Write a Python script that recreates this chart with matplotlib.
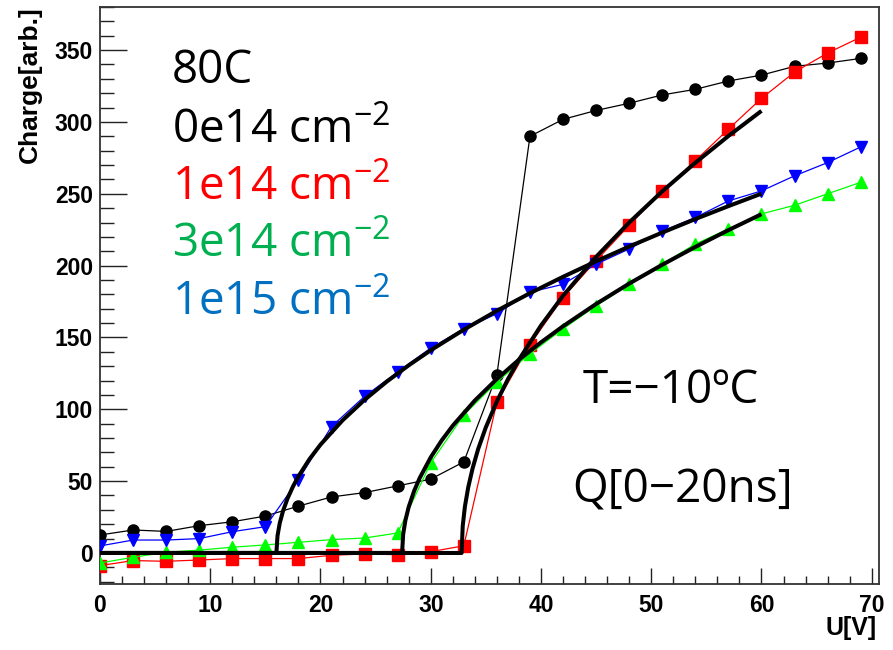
import matplotlib
matplotlib.use("Agg")
import matplotlib.pyplot as plt
from matplotlib.ticker import MultipleLocator

plt.rcParams["mathtext.fontset"] = "custom"
plt.rcParams["mathtext.rm"] = "Open Sans"
plt.rcParams["mathtext.it"] = "Open Sans"
plt.rcParams["mathtext.bf"] = "Open Sans"

# ---------------- data ----------------
voltage = [0, 3, 6, 9, 12, 15, 18, 21, 24, 27, 30, 33, 36, 39, 42, 45, 48, 51, 54, 57, 60, 63, 66, 69]

charge_0e14 = [12.5, 16, 15, 19, 21.7, 25.7, 32.6, 39, 42, 46.7, 51.4, 63.4, 124, 290,
               301.8, 308, 313, 318.8, 322.7, 328.5, 332.6, 338.7, 341, 344.2]
charge_1e14 = [-8.8, -5.3, -5.8, -4.9, -3.9, -3.9, -3.9, -1.6, -0.7, -1.2, 0.9, 5, 105, 145,
               177.8, 203.5, 228, 252, 273, 295, 316.4, 334.7, 348, 359]
charge_3e14 = [-7, -3, 0.5, 2, 4, 5.6, 7.4, 9.3, 10.4, 13.9, 62.7, 96, 119, 138.7,
               156, 172, 187, 201, 215, 225.5, 236, 242, 250, 258]
charge_1e15 = [4.9, 9, 9, 10, 14.8, 18.3, 51, 88, 109, 126, 142.6, 156, 166.5, 181.5,
               187, 201, 211.6, 224, 233.5, 245, 252, 262.5, 271.7, 282.6]

# fit curves (thick black lines)
fit_1e15_x = [0, 16.0, 16.1, 16.3, 16.6, 17, 17.5, 18, 19, 20, 22, 24, 26, 28, 30, 33, 36,
              39, 42, 45, 48, 51, 54, 57, 60]
fit_1e15_y = [0, 0, 11.9, 20.6, 29.2, 37.7, 46.2, 53.3, 65.3, 75.4, 92.3, 106.6, 119.2,
              130.6, 141.1, 155.4, 168.6, 180.8, 192.2, 203.0, 213.3, 223.0, 232.4, 241.4, 250.1]
fit_3e14_x = [0, 27.4, 27.5, 27.7, 28, 28.5, 29, 30, 31, 32, 34, 36, 38, 40, 42, 45, 48,
              51, 54, 57, 60]
fit_3e14_y = [0, 0, 13.1, 22.6, 32.0, 43.3, 52.2, 66.6, 78.4, 88.6, 106.1, 121.1, 134.5,
              146.6, 157.8, 173.3, 187.5, 200.6, 213.0, 224.7, 235.8]
fit_1e14_x = [0, 32.8, 32.9, 33.1, 33.4, 33.8, 34.3, 35, 36, 37, 38, 40, 42, 45, 48, 51,
              54, 57, 60]
fit_1e14_y = [0, 0, 18.7, 32.3, 45.7, 59, 72.3, 87.5, 105.5, 120.9, 134.5, 158.3, 179,
              206.1, 230, 251.7, 271.6, 290.2, 307.7]

legend_labels = ["80C",
                 "0e14 cm$^{\\mathregular{-2}}$",
                 "1e14 cm$^{\\mathregular{-2}}$",
                 "3e14 cm$^{\\mathregular{-2}}$",
                 "1e15 cm$^{\\mathregular{-2}}$"]
legend_colors = ["black", "black", "#ff0000", "#00b050", "#0070c0"]

# ---------------- figure ----------------
W, H = 893, 650
fig = plt.figure(figsize=(W / 100, H / 100), dpi=100)
ax = fig.add_axes([100 / W, 1 - 584 / H, 779 / W, 577 / H])

ax.plot(voltage, charge_0e14, color="black", lw=0.9, marker="o", ms=8, zorder=3)
ax.plot(voltage, charge_1e14, color="#ff0000", lw=0.9, marker="s", ms=8.5, zorder=4)
ax.plot(voltage, charge_3e14, color="#00ff00", lw=0.9, marker="^", ms=9, zorder=5)
ax.plot(voltage, charge_1e15, color="#0000ff", lw=0.9, marker="v", ms=9, zorder=6)

for fx, fy in [(fit_1e15_x, fit_1e15_y), (fit_3e14_x, fit_3e14_y), (fit_1e14_x, fit_1e14_y)]:
    ax.plot(fx, fy, color="black", lw=2.9, zorder=7, solid_capstyle="butt")

ax.set_xlim(0, 70.66)
ax.set_ylim(-21.6, 380)

ax.xaxis.set_major_locator(MultipleLocator(10))
ax.xaxis.set_minor_locator(MultipleLocator(2))
ax.yaxis.set_major_locator(MultipleLocator(50))
ax.yaxis.set_minor_locator(MultipleLocator(10))

ax.tick_params(axis="both", which="both", direction="in", color="#222222", width=1.0)
ax.tick_params(axis="y", which="major", length=19.5, pad=5)
ax.tick_params(axis="y", which="minor", length=10)
ax.tick_params(axis="x", which="major", length=11.5, pad=7)
ax.tick_params(axis="x", which="minor", length=5.8)
for lab in ax.get_xticklabels() + ax.get_yticklabels():
    lab.set_fontfamily("Liberation Sans")
    lab.set_fontweight("bold")
    lab.set_fontsize(16.5)

for sp in ax.spines.values():
    sp.set_color("#333333")
    sp.set_linewidth(1.3)

fig.text(30 / W, 1 - 6 / H, "Charge[arb.]", rotation=90, ha="center", va="top",
         family="Liberation Sans", weight="bold", size=19)
fig.text(877 / W, 1 - 628 / H, "U[V]", ha="right", va="center",
         family="Liberation Sans", weight="bold", size=18)

big = ["Open Sans", "DejaVu Sans"]
baselines = [83, 143, 200, 257, 315]
for lab, col, yb in zip(legend_labels, legend_colors, baselines):
    fig.text(172 / W, 1 - yb / H, lab, color=col, ha="left", va="baseline",
             family=big, size=33)

fig.text(583 / W, 1 - 403 / H, "T=\u221210\u00baC", ha="left", va="baseline",
         family=big, size=33)
fig.text(572 / W, 1 - 503 / H, "Q[0\u221220ns]", ha="left", va="baseline",
         family=big, size=33)

fig.savefig("out.png", dpi=100)
